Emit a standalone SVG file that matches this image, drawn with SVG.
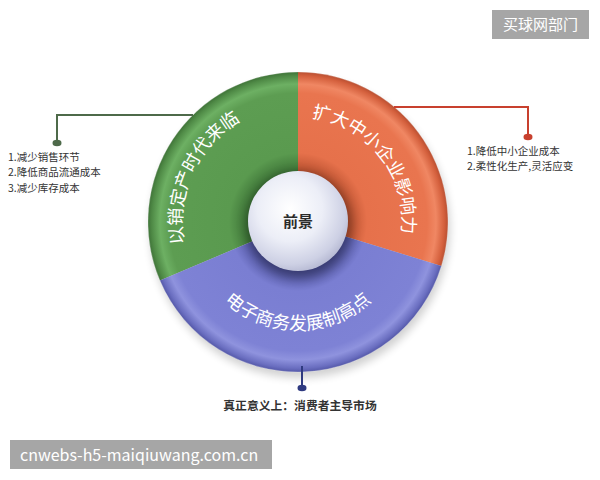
<svg xmlns="http://www.w3.org/2000/svg" width="600" height="480" viewBox="0 0 600 480">
<style>
.seg-label{font-family:"Noto Sans CJK SC","Noto Sans",sans-serif;fill:#ffffff;font-size:18px}
.note{font-family:"Noto Sans CJK SC","Noto Sans",sans-serif;fill:#333333;font-size:10.5px}
.wm{font-family:"Noto Sans CJK SC","Liberation Sans",sans-serif;fill:#ffffff}
</style>
<defs>
<radialGradient id="gGreen" gradientUnits="userSpaceOnUse" cx="298" cy="222" r="150">
<stop offset="0.33" stop-color="#3c7236"/><stop offset="0.46" stop-color="#5a9a4f"/><stop offset="0.86" stop-color="#5d9d52"/><stop offset="0.92" stop-color="#6db063"/><stop offset="0.975" stop-color="#4f8a46"/><stop offset="1" stop-color="#3f7338"/>
</radialGradient>
<radialGradient id="gOrange" gradientUnits="userSpaceOnUse" cx="298" cy="222" r="150">
<stop offset="0.33" stop-color="#b8502f"/><stop offset="0.46" stop-color="#e6714b"/><stop offset="0.86" stop-color="#e9754f"/><stop offset="0.92" stop-color="#f08763"/><stop offset="0.975" stop-color="#d4603d"/><stop offset="1" stop-color="#b84f31"/>
</radialGradient>
<radialGradient id="gBlue" gradientUnits="userSpaceOnUse" cx="298" cy="222" r="150">
<stop offset="0.33" stop-color="#4f539e"/><stop offset="0.46" stop-color="#7a7ed2"/><stop offset="0.86" stop-color="#7e82d5"/><stop offset="0.92" stop-color="#8f93de"/><stop offset="0.975" stop-color="#6a6ec0"/><stop offset="1" stop-color="#5458a8"/>
</radialGradient>
<radialGradient id="gSphere" cx="0.42" cy="0.38" r="0.65">
<stop offset="0" stop-color="#ffffff"/><stop offset="0.5" stop-color="#eceef7"/><stop offset="0.85" stop-color="#cdd0e4"/><stop offset="1" stop-color="#b5b8d2"/>
</radialGradient>
<filter id="blur" x="-20%" y="-20%" width="140%" height="140%"><feGaussianBlur stdDeviation="4"/></filter>
<path id="arcGreen" d="M 190.9,266.1 A 116 116 0 0 1 262.0,111.7"/>
<path id="arcOrange" d="M 316.1,118.6 A 104 104 0 0 1 401.8,229.3"/>
<path id="arcBlue" d="M 209.4,284.0 A 108 108 0 0 0 386.6,284.0"/>
</defs>

<rect width="600" height="480" fill="#ffffff"/>

<g id="wheel">
<ellipse cx="300" cy="228" rx="150" ry="150" fill="#000" opacity="0.18" filter="url(#blur)"/>
<g id="seg-green">
<path d="M298,222 L298,72 A150,150 0 0 0 159.9,280.6 Z" fill="url(#gGreen)"/>
<text class="seg-label" font-size="18"><textPath href="#arcGreen" startOffset="50%" text-anchor="middle">以销定产时代来临</textPath></text>
</g>
<g id="seg-orange">
<path d="M298,222 L298,72 A150,150 0 0 1 441.4,265.9 Z" fill="url(#gOrange)"/>
<text class="seg-label" font-size="17"><textPath href="#arcOrange" startOffset="50%" text-anchor="middle">扩大中小企业影响力</textPath></text>
</g>
<g id="seg-blue">
<path d="M298,222 L441.4,265.9 A150,150 0 0 1 159.9,280.6 Z" fill="url(#gBlue)"/>
<text class="seg-label" font-size="17"><textPath href="#arcBlue" startOffset="50%" text-anchor="middle">电子商务发展制高点</textPath></text>
</g>
<circle cx="298" cy="222" r="150" fill="none" stroke="#ffffff" stroke-opacity="0.25" stroke-width="1"/>
</g>

<g id="center">
<circle cx="299" cy="225" r="54" fill="#000" opacity="0.25" filter="url(#blur)"/>
<circle cx="298" cy="221" r="50" fill="url(#gSphere)"/>
<text x="298" y="227" text-anchor="middle" font-family="'Noto Sans CJK SC',sans-serif" font-size="15" font-weight="bold" fill="#2b2b2b">前景</text>
</g>

<g id="connectors" fill="none" stroke-width="2">
<polyline points="193,115 57,115 57,141" stroke="#4e6a4a"/>
<polyline points="394,107 528,107 528,135" stroke="#c8402e"/>
<line x1="302" y1="366" x2="302" y2="386" stroke="#2f3a80"/>
</g>
<g id="dots">
<ellipse cx="57" cy="143" rx="4.5" ry="3.2" fill="#4e6a4a"/>
<ellipse cx="528" cy="137" rx="4.5" ry="3.2" fill="#c8402e"/>
<ellipse cx="302" cy="388" rx="4.5" ry="3.2" fill="#2f3a80"/>
</g>

<g id="note-left">
<text class="note" x="8" y="161">1.减少销售环节</text>
<text class="note" x="8" y="176.3">2.降低商品流通成本</text>
<text class="note" x="8" y="191.6">3.减少库存成本</text>
</g>
<g id="note-right">
<text class="note" x="467" y="155">1.降低中小企业成本</text>
<text class="note" x="467" y="170.3">2.柔性化生产,灵活应变</text>
</g>
<g id="note-bottom">
<text class="note" x="300" y="410" text-anchor="middle" style="font-size:11.8px;font-weight:bold;fill:#333">真正意义上：消费者主导市场</text>
</g>

<g id="watermark-top">
<rect x="492" y="10" width="97" height="29" fill="#a6a6a6"/>
<text class="wm" x="540.5" y="30" text-anchor="middle" font-size="15">买球网部门</text>
</g>
<g id="watermark-bottom">
<rect x="10" y="440" width="262" height="29" fill="#a6a6a6"/>
<text class="wm" x="20" y="461" font-size="16">cnwebs-h5-maiqiuwang.com.cn</text>
</g>
</svg>
